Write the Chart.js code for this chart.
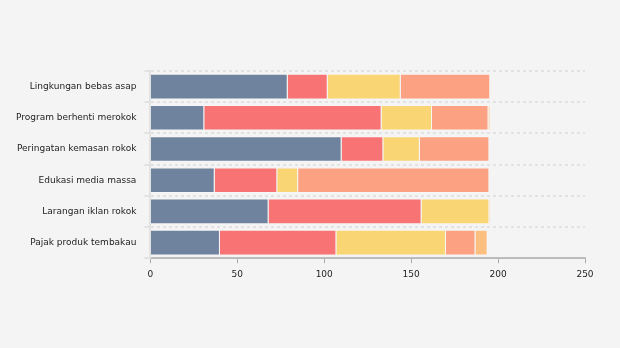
<!DOCTYPE html>
<html>
<head>
<meta charset="utf-8">
<script src="https://cdn.jsdelivr.net/npm/chart.js@4"></script>
<style>
  html, body { margin: 0; padding: 0; background: #f4f4f4; }
  #wrap { width: 620px; height: 348px; }
</style>
</head>
<body>
<div id="wrap"><canvas id="barChartDiv"></canvas></div>
<script>
var categories = ["Lingkungan bebas asap", "Program berhenti merokok", "Peringatan kemasan rokok", "Edukasi media massa", "Larangan iklan rokok", "Pajak produk tembakau"];
var seriesA = [79, 31, 110, 37, 68, 40];
var seriesB = [23, 102, 24, 36, 88, 67];
var seriesC = [42, 29, 21, 12, 39, 63];
var seriesD = [51.5, 32.5, 40, 110, 0, 17];
var seriesE = [0, 1, 0, 0, 0.5, 7];
var xTicks = [0, 50, 100, 150, 200, 250];

var colors = ["#6f839e", "#f87373", "#f9d573", "#fca181", "#fdbf80"];

function makeSet(data, i) {
  return {
    data: data,
    backgroundColor: colors[i],
    borderColor: "rgba(255,255,255,0.25)",
    borderWidth: 1,
    categoryPercentage: 0.82,
    barPercentage: 1
  };
}

Chart.defaults.font.family = "'DejaVu Sans', Verdana, sans-serif";
Chart.defaults.font.size = 9;
Chart.defaults.color = "#333";

var barChart = new Chart(document.getElementById("barChartDiv"), {
  type: 'bar',
  data: {
    labels: categories,
    datasets: [seriesA, seriesB, seriesC, seriesD, seriesE].map(makeSet)
  },
  options: {
    indexAxis: 'y',
    responsive: true,
    maintainAspectRatio: false,
    animation: false,
    layout: { padding: { top: 71, right: 35, bottom: 62, left: 8 } },
    plugins: {
      legend: { display: false },
      tooltip: { enabled: false }
    },
    scales: {
      x: {
        stacked: true,
        min: 0,
        max: 250,
        afterBuildTicks: function(axis) {
          axis.ticks = xTicks.map(function(v) { return { value: v }; });
        },
        grid: {
          drawOnChartArea: false,
          drawTicks: true,
          tickLength: 5,
          color: "#aaa",
          lineWidth: 1
        },
        border: { color: "#bbb", width: 2, dash: [3, 2] },
        ticks: { color: "#222", padding: 6 }
      },
      y: {
        stacked: true,
        grid: {
          offset: true,
          color: "#e2e2e2",
          lineWidth: 2,
          tickColor: "#e2e2e2",
          tickLength: 6,
          drawTicks: true
        },
        border: { color: "#e2e2e2", width: 2, dash: [3, 3] },
        ticks: { color: "#222", padding: 8 }
      }
    }
  }
});
</script>
</body>
</html>
